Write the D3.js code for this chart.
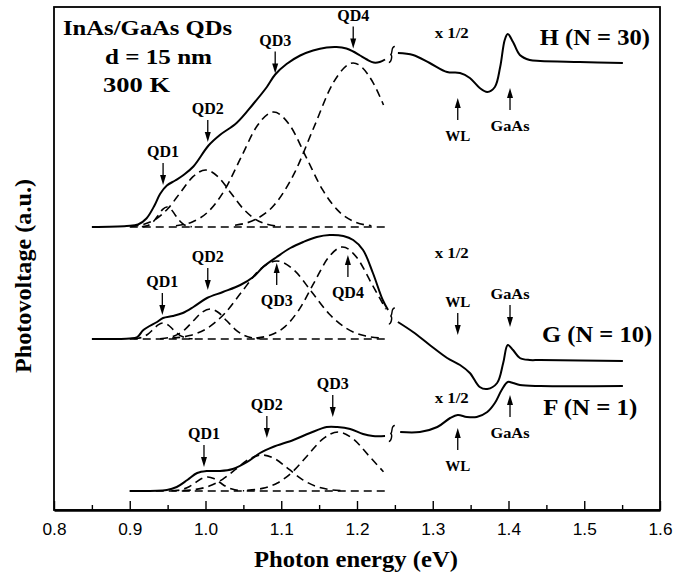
<!DOCTYPE html>
<html><head><meta charset="utf-8">
<script src="https://cdn.jsdelivr.net/npm/d3@7"></script>
<style>body{margin:0;background:#fff}</style>
</head><body>
<svg id="c" width="685" height="577"></svg>
<script>
// ---------- DATA ----------
const energyTicks = [0.8, 0.9, 1.0, 1.1, 1.2, 1.3, 1.4, 1.5, 1.6];
const minorTicks = [0.85, 0.95, 1.05, 1.15, 1.25, 1.35, 1.45, 1.55];
const sampleNames = ["H (N = 30)", "G (N = 10)", "F (N = 1)"];
const sampleOffsets = [28.3, 17.1, 1.9];   // vertical offset of each spectrum (a.u.)
const baseRange = [0.9, 1.237];

// measured spectra, QD region (E in eV, photovoltage a.u. above own baseline)
const hLow = [[0.85,0],[0.896,0.1],[0.911,0.25],[0.922,0.85],[0.933,2.2],[0.94,3.3],[0.949,4.15],[0.96,4.65],[0.971,5.2],[0.984,6.05],[1.004,8.15],[1.019,9.2],[1.041,10.4],[1.063,12.3],[1.081,14.0],[1.092,15.25],[1.107,16.3],[1.125,17.15],[1.142,17.65],[1.16,17.95],[1.173,18.0],[1.186,17.85],[1.195,17.55],[1.204,17.15],[1.213,16.75],[1.222,16.45],[1.23,16.5],[1.237,16.75]];
const gLow = [[0.85,0],[0.9,0.05],[0.91,0.2],[0.918,0.9],[0.936,1.7],[0.944,2.1],[0.957,2.3],[0.97,2.6],[0.984,3.2],[1.002,4.1],[1.023,4.7],[1.046,5.4],[1.063,6.2],[1.076,7.2],[1.094,8.2],[1.112,9.1],[1.129,9.7],[1.147,10.2],[1.164,10.4],[1.182,10.3],[1.195,9.9],[1.208,8.9],[1.221,6.6],[1.234,3.9],[1.241,2.9]];
const fLow = [[0.9,0],[0.949,0.1],[0.962,0.4],[0.976,1.1],[0.989,1.8],[1.002,2.0],[1.019,2.0],[1.036,2.2],[1.055,2.9],[1.072,3.8],[1.089,4.4],[1.116,5.1],[1.138,5.8],[1.16,6.4],[1.174,6.4],[1.191,6.2],[1.208,5.7],[1.221,5.5],[1.237,5.5]];

// measured spectra, WL / GaAs region (plotted x 1/2)
const hHigh = [[1.254,17.4],[1.274,17.2],[1.296,16.4],[1.319,15.5],[1.336,15.4],[1.349,14.9],[1.362,13.9],[1.372,13.5],[1.382,14.0],[1.389,16.0],[1.395,18.7],[1.399,19.3],[1.406,18.5],[1.415,17.2],[1.428,16.7],[1.442,16.6],[1.494,16.5],[1.551,16.4]];
const gHigh = [[1.254,1.7],[1.274,0.7],[1.296,-0.6],[1.319,-1.9],[1.336,-2.6],[1.349,-3.4],[1.362,-4.8],[1.372,-5.0],[1.385,-4.4],[1.393,-2.4],[1.399,-0.6],[1.406,-1.1],[1.415,-1.9],[1.428,-2.1],[1.442,-2.1],[1.551,-2.2]];
const fHigh = [[1.257,5.9],[1.283,5.9],[1.306,6.4],[1.323,7.3],[1.333,7.6],[1.345,7.4],[1.358,7.4],[1.372,7.9],[1.382,8.8],[1.391,10.1],[1.399,10.9],[1.406,10.8],[1.415,10.6],[1.442,10.5],[1.551,10.5]];

// fitted QD components (dashed)
const hQD1 = [[0.916,0.02],[0.9215,0.09],[0.927,0.27],[0.9325,0.65],[0.938,1.21],[0.9435,1.77],[0.949,2.0],[0.9545,1.77],[0.96,1.21],[0.9655,0.65],[0.971,0.27],[0.9765,0.09],[0.982,0.02]];
const hQD2 = [[0.901,0.06],[0.9175,0.25],[0.934,0.77],[0.9505,1.85],[0.967,3.46],[0.9835,5.03],[1.0,5.7],[1.0165,5.03],[1.033,3.46],[1.0495,1.85],[1.066,0.77],[1.0825,0.25],[1.099,0.06]];
const hQD3 = [[0.961,0.13],[0.9825,0.5],[1.004,1.56],[1.0255,3.73],[1.047,6.97],[1.0685,10.15],[1.09,11.5],[1.1115,10.15],[1.133,6.97],[1.1545,3.73],[1.176,1.56],[1.1975,0.5],[1.219,0.13]];
const hQD4 = [[1.039,0.18],[1.065,0.72],[1.091,2.22],[1.117,5.33],[1.143,9.95],[1.169,14.47],[1.195,16.4],[1.221,14.47],[1.235,12.2]];
const gQD1 = [[0.905,0.02],[0.9115,0.07],[0.918,0.22],[0.9245,0.52],[0.931,0.97],[0.9375,1.41],[0.944,1.6],[0.9505,1.41],[0.957,0.97],[0.9635,0.52],[0.97,0.22],[0.9765,0.07],[0.983,0.02]];
const gQD2 = [[0.94,0.03],[0.951,0.13],[0.962,0.41],[0.973,0.97],[0.984,1.82],[0.995,2.65],[1.006,3.0],[1.017,2.65],[1.028,1.82],[1.039,0.97],[1.05,0.41],[1.061,0.13],[1.072,0.03]];
const gQD3 = [[0.956,0.09],[0.979,0.34],[1.002,1.06],[1.025,2.53],[1.048,4.73],[1.071,6.88],[1.094,7.8],[1.117,6.88],[1.14,4.73],[1.163,2.53],[1.186,1.06],[1.209,0.34],[1.232,0.09]];
const gQD4 = [[1.067,0.1],[1.086,0.4],[1.105,1.24],[1.124,2.99],[1.143,5.58],[1.162,8.12],[1.181,9.2],[1.2,8.12],[1.219,5.58],[1.238,2.99]];
const fQD1 = [[0.955,0.02],[0.963,0.06],[0.971,0.19],[0.979,0.45],[0.987,0.85],[0.995,1.24],[1.003,1.4],[1.011,1.24],[1.019,0.85],[1.027,0.45],[1.035,0.19],[1.043,0.06],[1.051,0.02]];
const fQD2 = [[0.97,0.04],[0.9875,0.16],[1.005,0.49],[1.0225,1.17],[1.04,2.18],[1.0575,3.18],[1.075,3.6],[1.0925,3.18],[1.11,2.18],[1.1275,1.17],[1.145,0.49],[1.1625,0.16],[1.18,0.04]];
const fQD3 = [[1.055,0.07],[1.075,0.26],[1.095,0.8],[1.115,1.92],[1.135,3.58],[1.155,5.21],[1.175,5.9],[1.195,5.21],[1.215,3.58],[1.235,1.92]];

// peak markers: [label, energy, arrow-tip value, direction (1 = points down, -1 = points up)]
const hMarks = [["QD1",0.944,4.2,1],["QD2",1.003,8.5,1],["QD3",1.092,15.35,1],["QD4",1.195,17.85,1],["WL",1.333,12.9,-1],["GaAs",1.402,13.9,-1]];
const gMarks = [["QD1",0.943,2.4,1],["QD2",1.003,4.9,1],["QD3",1.094,7.6,-1],["QD4",1.188,8.4,-1],["WL",1.333,0.4,1],["GaAs",1.402,1.2,1]];
const fMarks = [["QD1",0.998,2.4,1],["QD2",1.081,5.3,1],["QD3",1.168,7.4,1],["WL",1.333,6.3,-1],["GaAs",1.402,9.6,-1]];

const halfLabelE = 1.325;
const halfLabelV = [18.9, 8.1, 8.8];
const nameLabelE = [1.514, 1.517, 1.508];
const nameLabelV = [18.2, -0.3, 7.6];
const breakE = 1.246;
const breakV = [17.25, 2.3, 5.75];

// ---------- DRAW ----------
const svg = d3.select("#c");
const X = d3.scaleLinear().domain([0.8, 1.6]).range([54, 660]);
const Y = d3.scaleLinear().domain([0, 50.3]).range([510, 7]);
const SERIF = "'Liberation Serif','Times New Roman',serif";
const SANS = "'Liberation Sans',Arial,sans-serif";

function text(x, y, s, size, opts = {}) {
  const t = svg.append("text").attr("x", x).attr("y", y).text(s)
    .attr("font-family", opts.family || SERIF)
    .attr("font-weight", opts.weight || "bold")
    .attr("font-size", size)
    .attr("text-anchor", opts.anchor || "middle")
    .attr("fill", "#000");
  if (opts.len) t.attr("textLength", opts.len).attr("lengthAdjust", "spacingAndGlyphs");
  if (opts.transform) t.attr("transform", opts.transform);
  return t;
}

// frame
svg.append("rect")
  .attr("x", X.range()[0]).attr("y", Y.range()[1])
  .attr("width", X.range()[1] - X.range()[0])
  .attr("height", Y.range()[0] - Y.range()[1])
  .attr("fill", "none").attr("stroke", "#000").attr("stroke-width", 1.8);

// bottom axis
const ax = svg.append("g").attr("transform", `translate(0,${Y.range()[0]})`)
  .call(d3.axisBottom(X).tickValues(energyTicks).tickSize(-9).tickSizeOuter(0)
    .tickPadding(13).tickFormat(d3.format(".1f")));
ax.select(".domain").attr("stroke-width", 2.6);
ax.selectAll(".tick line").attr("stroke-width", 1.4);
ax.selectAll("text").attr("font-family", SANS).attr("font-size", 16.5)
  .attr("textLength", 24).attr("lengthAdjust", "spacingAndGlyphs");
const axm = svg.append("g").attr("transform", `translate(0,${Y.range()[0]})`)
  .call(d3.axisBottom(X).tickValues(minorTicks).tickSize(-5).tickSizeOuter(0).tickFormat(""));
axm.select(".domain").remove();
axm.selectAll(".tick line").attr("stroke-width", 1.4);

// axis titles
text(356, 567, "Photon energy (eV)", 23, { len: 204 });
text(0, 0, "Photovoltage (a.u.)", 23, { transform: "translate(31,276) rotate(-90)", len: 194 });

// spectra
const lows = [hLow, gLow, fLow];
const highs = [hHigh, gHigh, fHigh];
const comps = [[hQD1, hQD2, hQD3, hQD4], [gQD1, gQD2, gQD3, gQD4], [fQD1, fQD2, fQD3]];
const marks = [hMarks, gMarks, fMarks];

sampleOffsets.forEach((off, i) => {
  const solid = d3.line().x(d => X(d[0])).y(d => Y(d[1] + off)).curve(d3.curveCatmullRom.alpha(0.5));
  const smooth = d3.line().x(d => X(d[0])).y(d => Y(d[1] + off)).curve(d3.curveMonotoneX);

  // dashed baseline
  svg.append("line")
    .attr("x1", X(baseRange[0])).attr("x2", X(baseRange[1]))
    .attr("y1", Y(off)).attr("y2", Y(off))
    .attr("stroke", "#000").attr("stroke-width", 1.6).attr("stroke-dasharray", "8,5");

  // fitted components
  comps[i].forEach(c => {
    svg.append("path").attr("d", smooth(c)).attr("fill", "none")
      .attr("stroke", "#000").attr("stroke-width", 1.6).attr("stroke-dasharray", "8,5");
  });

  // measured curves
  [lows[i], highs[i]].forEach(c => {
    svg.append("path").attr("d", solid(c)).attr("fill", "none")
      .attr("stroke", "#000").attr("stroke-width", 2).attr("stroke-linejoin", "round");
  });

  // axis-break mark
  const bx = X(breakE), by = Y(breakV[i] + off);
  svg.append("path")
    .attr("d", `M${bx + 3},${by - 8} C${bx - 1},${by - 8} ${bx + 1},${by - 2} ${bx - 1},${by} C${bx + 1},${by + 2} ${bx - 1},${by + 8} ${bx - 3},${by + 8}`)
    .attr("fill", "none").attr("stroke", "#000").attr("stroke-width", 1.4);

  // peak markers
  marks[i].forEach(([lab, e, tip, dir]) => {
    const x = X(e), yTip = Y(tip + off), yTail = yTip - dir * 22;
    svg.append("line").attr("x1", x).attr("x2", x)
      .attr("y1", yTail).attr("y2", yTip - dir * 7)
      .attr("stroke", "#000").attr("stroke-width", 1.3);
    svg.append("path")
      .attr("d", `M${x},${yTip} L${x - 3},${yTip - dir * 10} L${x + 3},${yTip - dir * 10} Z`)
      .attr("fill", "#000");
    const ly = dir === 1 ? yTail - 6 : yTail + 21;
    const isQD = lab.startsWith("QD");
    text(x, ly, lab, isQD ? 16 : 15, lab === "GaAs" ? { len: 39 } : {});
  });

  // x 1/2 label
  text(X(halfLabelE), Y(halfLabelV[i] + off), "x 1/2", 15, { len: 34 });
  // sample name
  text(X(nameLabelE[i]), Y(nameLabelV[i] + off), sampleNames[i], 23, { len: i === 2 ? 94 : 110 });
});

// title block
text(63, 35, "InAs/GaAs QDs", 21, { anchor: "start", len: 169 });
text(105, 64, "d = 15 nm", 21, { anchor: "start", len: 107 });
text(103, 92, "300 K", 21, { anchor: "start", len: 67 });
</script>
</body></html>
